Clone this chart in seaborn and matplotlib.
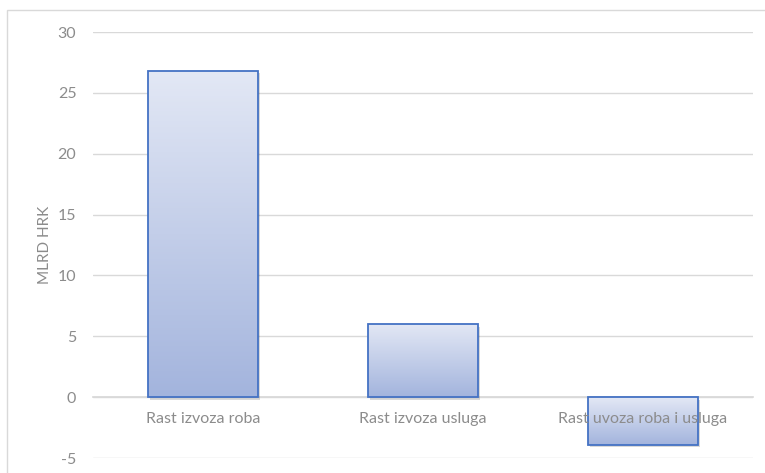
import numpy as np
import pandas as pd
import matplotlib
matplotlib.use("Agg")
import matplotlib.pyplot as plt
import matplotlib.patches as mpatches
import matplotlib.transforms as mtransforms
from matplotlib.colors import LinearSegmentedColormap
import seaborn as sns

# podaci
kategorije = ["Rast izvoza roba", "Rast izvoza usluga", "Rast uvoza roba i usluga"]
vrijednosti = [26.8, 6.0, -3.9]
y_ticks = [-5, 0, 5, 10, 15, 20, 25, 30]

df = pd.DataFrame({"kategorija": kategorije, "vrijednost": vrijednosti})

sns.set_theme(style="white")
plt.rcParams["font.family"] = ["Lato", "DejaVu Sans"]
plt.rcParams["axes.unicode_minus"] = False

W, H = 765, 473
fig = plt.figure(figsize=(W / 100, H / 100), dpi=100)
ax = fig.add_axes([93 / W, 1 - 458 / H, (753 - 93) / W, (458 - 32) / H])

sns.barplot(data=df, x="kategorija", y="vrijednost", ax=ax, width=0.5,
            color="#b4c3e6", edgecolor="#4472c4", linewidth=1.3, zorder=3)

# gradijent i sjena za svaki stupac
grad = LinearSegmentedColormap.from_list("g", ["#a3b4dd", "#e3e8f5"])
img = np.linspace(0, 1, 256).reshape(-1, 1)
for p in list(ax.patches):
    x0, w = p.get_x(), p.get_width()
    y0, h = p.get_y(), p.get_height()
    ylo, yhi = min(y0, y0 + h), max(y0, y0 + h)
    shadow = mpatches.Rectangle((x0, ylo), w, yhi - ylo, facecolor="#000000",
                                alpha=0.15, edgecolor="none", zorder=2,
                                transform=ax.transData + mtransforms.ScaledTranslation(
                                    1.5 / 100, -2.5 / 100, fig.dpi_scale_trans))
    ax.add_patch(shadow)
    im = ax.imshow(img, cmap=grad, aspect="auto", origin="lower",
                   extent=(x0, x0 + w, ylo, yhi), zorder=3.5)
    im.set_clip_path(p)
    p.set_facecolor("none")
    p.set_zorder(4)

ax.set_xlim(-0.5, 2.5)
ax.set_ylim(-5, 30)
ax.set_yticks(y_ticks)
ax.grid(axis="y", color="#d9d9d9", linewidth=1)
ax.grid(axis="x", visible=False)
for s in ["top", "right", "left"]:
    ax.spines[s].set_visible(False)
ax.spines["bottom"].set_position(("data", 0))
ax.spines["bottom"].set_color("#d9d9d9")
ax.spines["bottom"].set_zorder(1)

ax.tick_params(axis="y", length=0, pad=12, labelsize=11.5, labelcolor="#8c8c8c")
ax.tick_params(axis="x", length=0, pad=11, labelsize=11.5, labelcolor="#8c8c8c")
ax.xaxis.set_zorder(10)
ax.set_xlabel("")
ax.set_ylabel("MLRD HRK", color="#8c8c8c", fontsize=11, labelpad=4)

# okvir grafikona
fig.patches.append(mpatches.Rectangle((7 / W, -0.1), 1.2, 1 - 10 / H + 0.1,
                                      transform=fig.transFigure, fill=False,
                                      edgecolor="#d9d9d9", linewidth=1))

fig.savefig("out.png", dpi=100)
